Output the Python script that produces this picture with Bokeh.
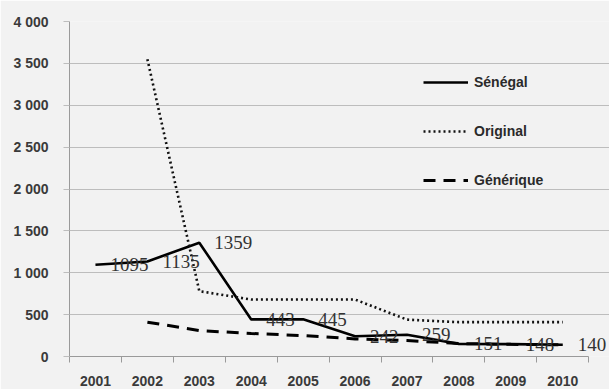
from bokeh.plotting import figure
from bokeh.models import (ColumnDataSource, FixedTicker, Legend, LegendItem,
                          LabelSet, Range1d)
from bokeh.embed import file_html
from bokeh.resources import INLINE

years = [2001, 2002, 2003, 2004, 2005, 2006, 2007, 2008, 2009, 2010]
senegal = [1095, 1135, 1359, 443, 445, 242, 259, 151, 148, 140]
orig_years = [2002, 2003, 2004, 2005, 2006, 2007, 2008, 2009, 2010]
original = [3550, 780, 680, 680, 680, 440, 410, 410, 410]
gen_years = [2002, 2003, 2004, 2005, 2006, 2007, 2008, 2009, 2010]
generique = [410, 310, 275, 250, 210, 190, 155, 145, 140]
y_ticks = [0, 500, 1000, 1500, 2000, 2500, 3000, 3500, 4000]
y_tick_labels = ["0", "500", "1 000", "1 500", "2 000", "2 500", "3 000", "3 500", "4 000"]

BG = "#f2f2f2"
x_lo, x_hi = years[0] - 0.5, years[-1] + 0.5
# frame extends a little beyond the last category so the last value label is not clipped
x_extra = 0.4
p = figure(width=609, height=389, output_backend="svg", toolbar_location=None,
           x_range=Range1d(x_lo, x_hi + x_extra),
           y_range=Range1d(0, 4000),
           min_border_left=69, min_border_right=0, min_border_top=21,
           min_border_bottom=33)
p.background_fill_color = BG
p.border_fill_color = BG
p.outline_line_color = None

p.xgrid.grid_line_color = None
p.ygrid.grid_line_color = "#bdbdbd"
p.ygrid.grid_line_width = 1.2
p.ygrid.ticker = FixedTicker(ticks=y_ticks)
p.ygrid.bounds = (x_lo, x_hi)

p.xaxis.ticker = FixedTicker(ticks=years, minor_ticks=[y - 0.5 for y in years] + [x_hi])
p.xaxis.bounds = (x_lo, x_hi)
p.xaxis.major_label_overrides = {y: str(y) for y in years}
p.xaxis.major_tick_line_color = None
p.xaxis.minor_tick_line_color = "#9a9a9a"
p.xaxis.minor_tick_out = 6
p.xaxis.minor_tick_in = 0
p.xaxis.axis_line_color = "#9a9a9a"
p.xaxis.major_label_standoff = 13

p.yaxis.ticker = FixedTicker(ticks=y_ticks)
p.yaxis.major_label_overrides = {t: l for t, l in zip(y_ticks, y_tick_labels)}
p.yaxis.major_tick_line_color = "#bdbdbd"
p.yaxis.major_tick_out = 6
p.yaxis.major_tick_in = 0
p.yaxis.minor_tick_line_color = None
p.yaxis.axis_line_color = "#9a9a9a"
p.yaxis.major_label_standoff = 15

for ax in (p.xaxis, p.yaxis):
    ax.major_label_text_font = "Liberation Sans"
    ax.major_label_text_font_size = "14px"
    ax.major_label_text_font_style = "bold"
    ax.major_label_text_color = "#3a3a3a"

r1 = p.line(years, senegal, line_color="black", line_width=2.6)
r2 = p.line(orig_years, original, line_color="#111111", line_width=2.6, line_dash="2 3")
r3 = p.line(gen_years, generique, line_color="black", line_width=3, line_dash="12 8")

src = ColumnDataSource(dict(x=years, y=senegal, t=[str(v) for v in senegal]))
labels = LabelSet(x="x", y="y", text="t", source=src, x_offset=15,
                  text_baseline="middle", text_align="left",
                  text_font="Liberation Serif", text_font_size="19px",
                  text_color="#333333")
p.add_layout(labels)

legend = Legend(items=[LegendItem(label="Sénégal", renderers=[r1]),
                       LegendItem(label="Original", renderers=[r2]),
                       LegendItem(label="Générique", renderers=[r3])],
                location=(354, 166), padding=0, margin=0, spacing=29,
                glyph_width=45, glyph_height=20, label_height=20,
                label_standoff=6, background_fill_alpha=0,
                border_line_color=None,
                label_text_font="Liberation Sans", label_text_font_size="14px",
                label_text_font_style="bold",
                label_text_color="#2a2a2a")
p.add_layout(legend)

open("out.html", "w").write(file_html(p, INLINE))
